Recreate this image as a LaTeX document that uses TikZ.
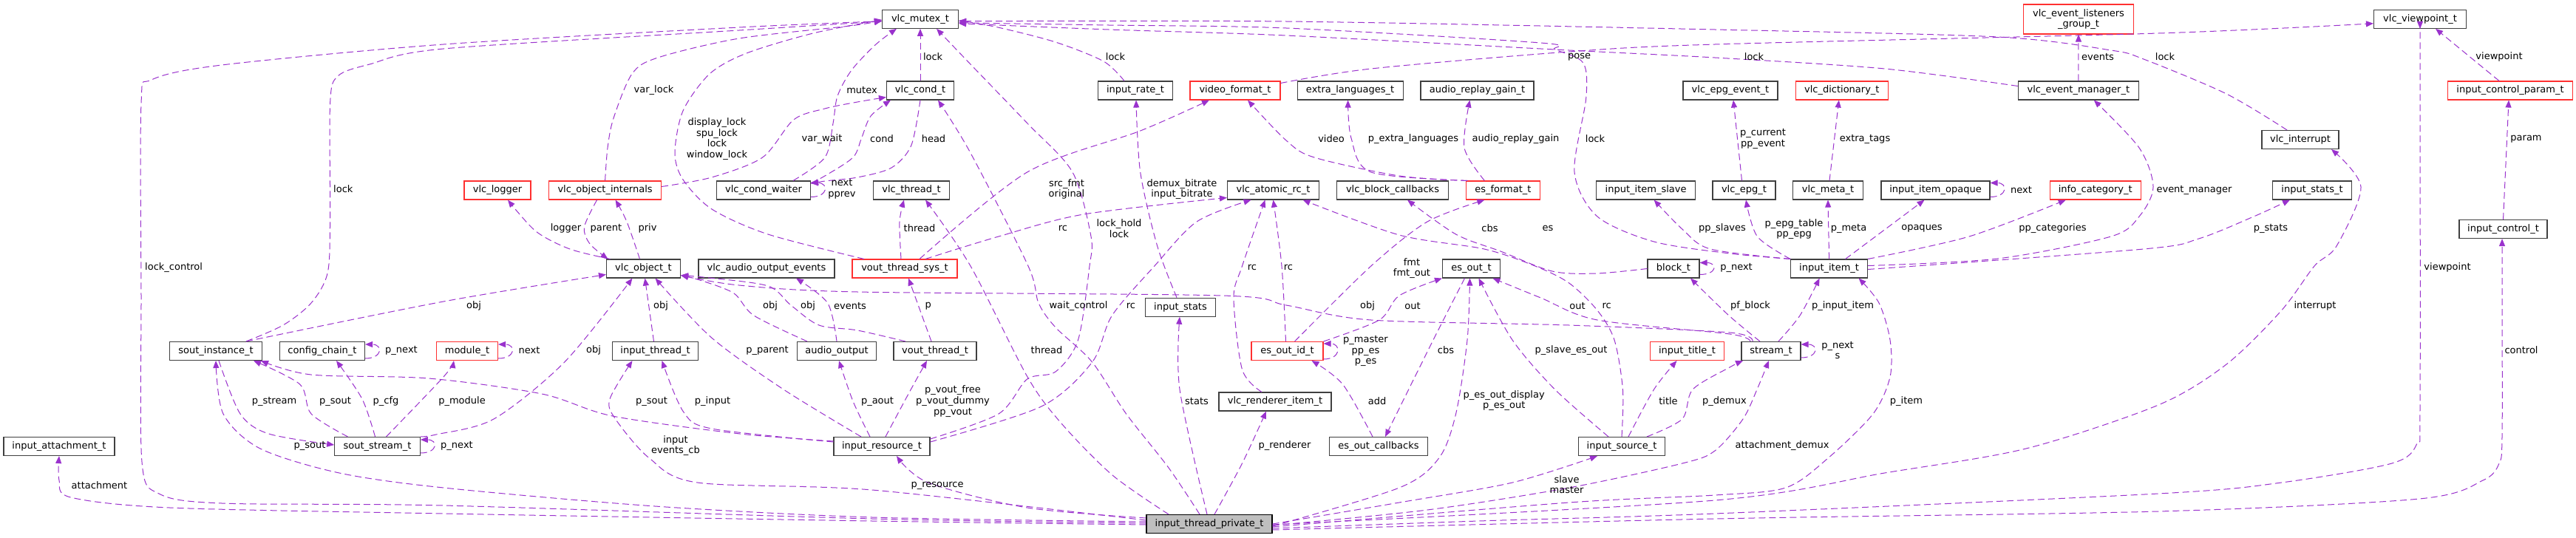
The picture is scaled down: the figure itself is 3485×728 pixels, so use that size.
\documentclass[tikz,border=0pt]{standalone}
\usepackage{fontspec}
\setmainfont{DejaVu Sans}
\usetikzlibrary{arrows.meta}
\definecolor{edgepurple}{HTML}{9A32CD}
\definecolor{truncred}{HTML}{FF3030}
\definecolor{boxgray}{HTML}{404040}
\definecolor{mainfill}{HTML}{BFBFBF}
\newcommand{\gsize}{\fontsize{13}{14.7}\selectfont}

\begin{document}
\begin{tikzpicture}[x=1pt,y=-1pt,
  cls/.style={draw=boxgray, line width=1.1pt, fill=white, minimum height=25pt, inner sep=0pt, font=\gsize},
  clsred/.style={cls, draw=truncred},
  memb/.style={draw=edgepurple, line width=1pt, dash pattern=on 9pt off 5pt, -{Triangle[length=10pt,width=8pt]}},
  lbl/.style={inner sep=0pt, align=center, font=\gsize, text=black}]
\fill[white, use as bounding box] (0,0) rectangle (3485,728);

\node[cls, minimum width=103pt] (mutex) at (1245,25.8) {vlc\_mutex\_t};
\node[clsred, minimum width=148.5pt, minimum height=40pt, align=center] (listeners) at (2812,26) {vlc\_event\_listeners\\\_group\_t};
\node[cls, minimum width=125pt] (viewpoint) at (3274,25.8) {vlc\_viewpoint\_t};
\node[cls, minimum width=91pt] (cond) at (1245,122.5) {vlc\_cond\_t};
\node[cls, minimum width=101pt] (rate) at (1536,122.5) {input\_rate\_t};
\node[clsred, minimum width=122pt] (vfmt) at (1671,122.5) {video\_format\_t};
\node[cls, minimum width=143pt] (xlang) at (1826.6,122.5) {extra\_languages\_t};
\node[cls, minimum width=153pt] (arg) at (1998.5,122.5) {audio\_replay\_gain\_t};
\node[cls, minimum width=128pt] (epgev) at (2341,122.5) {vlc\_epg\_event\_t};
\node[clsred, minimum width=125.5pt] (dict) at (2491.8,122.5) {vlc\_dictionary\_t};
\node[cls, minimum width=163pt] (evmgr) at (2811.8,122.5) {vlc\_event\_manager\_t};
\node[clsred, minimum width=169pt] (ctlparam) at (3396,122.5) {input\_control\_param\_t};
\node[cls, minimum width=104pt] (interrupt) at (3112,189) {vlc\_interrupt};
\node[clsred, minimum width=90pt] (logger) at (673,257.5) {vlc\_logger};
\node[clsred, minimum width=152pt] (internals) at (818.6,257.5) {vlc\_object\_internals};
\node[cls, minimum width=127pt] (waiter) at (1033,257.5) {vlc\_cond\_waiter};
\node[cls, minimum width=103pt] (thread) at (1233,257.5) {vlc\_thread\_t};
\node[cls, minimum width=124pt] (atomic) at (1722.5,257.5) {vlc\_atomic\_rc\_t};
\node[cls, minimum width=151pt] (blockcb) at (1884,257.5) {vlc\_block\_callbacks};
\node[clsred, minimum width=100pt] (esfmt) at (2033.4,257.5) {es\_format\_t};
\node[cls, minimum width=134pt] (slave) at (2226.6,257.5) {input\_item\_slave};
\node[cls, minimum width=85pt] (epg) at (2359.5,257.5) {vlc\_epg\_t};
\node[cls, minimum width=95pt] (meta) at (2473,257.5) {vlc\_meta\_t};
\node[cls, minimum width=147pt] (opaque) at (2618.5,257.5) {input\_item\_opaque};
\node[clsred, minimum width=123pt] (infocat) at (2834.7,257.5) {info\_category\_t};
\node[cls, minimum width=107pt] (istatst) at (3128,257.5) {input\_stats\_t};
\node[cls, minimum width=119pt] (ctl) at (3386.5,310) {input\_control\_t};
\node[cls, minimum width=100pt] (obj) at (870.5,363.5) {vlc\_object\_t};
\node[cls, minimum width=184pt] (aoevents) at (1037,363.5) {vlc\_audio\_output\_events};
\node[clsred, minimum width=142pt] (voutsys) at (1224,363.5) {vout\_thread\_sys\_t};
\node[cls, minimum width=78pt] (esout) at (1990.5,363.5) {es\_out\_t};
\node[cls, minimum width=70pt] (block) at (2264,363.5) {block\_t};
\node[cls, minimum width=104pt] (item) at (2474.6,363.5) {input\_item\_t};
\node[cls, minimum width=95pt] (istats) at (1597,415.7) {input\_stats};
\node[cls, minimum width=125pt] (sout) at (292,475) {sout\_instance\_t};
\node[cls, minimum width=115pt] (chain) at (436,475) {config\_chain\_t};
\node[clsred, minimum width=83pt] (module) at (632,475) {module\_t};
\node[cls, minimum width=115.5pt] (ithread) at (886.5,475) {input\_thread\_t};
\node[cls, minimum width=106.6pt] (aout) at (1132,475) {audio\_output};
\node[cls, minimum width=112pt] (vout) at (1265,475) {vout\_thread\_t};
\node[clsred, minimum width=97pt] (esid) at (1741.5,475) {es\_out\_id\_t};
\node[clsred, minimum width=100pt] (title) at (2282.5,475) {input\_title\_t};
\node[cls, minimum width=80pt] (stream) at (2396,475) {stream\_t};
\node[cls, minimum width=152pt] (renderer) at (1725,543.5) {vlc\_renderer\_item\_t};
\node[cls, minimum width=150pt] (attach) at (80,604) {input\_attachment\_t};
\node[cls, minimum width=115.6pt] (soutstream) at (510.5,604) {sout\_stream\_t};
\node[cls, minimum width=130pt] (resource) at (1193,604) {input\_resource\_t};
\node[cls, minimum width=133pt] (escb) at (1865,604) {es\_out\_callbacks};
\node[cls, minimum width=117.5pt] (source) at (2194,604) {input\_source\_t};
\node[cls, draw=black, fill=mainfill, minimum width=170pt] (itp) at (1636,709) {input\_thread\_private\_t};

\draw[memb] plot[smooth] coordinates {([yshift=1pt]itp.west) (1180,702) (600,684) (300,681) (215,668) (192,625) (191,400) (191,140) (205,108) (300,88) (600,60) (1000,37) ([yshift=-3pt]mutex.west)};
\draw[memb] plot[smooth] coordinates {([xshift=41pt]sout.north) (383,440) (421,410) (443,370) (446.6,300) (446.6,140) (457,103) (500,87) (600,66) (1000,41) ([yshift=-3pt]mutex.west)};
\draw[memb] plot[smooth] coordinates {(internals.north) (822,200) (830,160) (855,100) (890,78) (1000,52) (1150,35) ([yshift=-2pt]mutex.west)};
\draw[memb] plot[smooth] coordinates {([xshift=-55pt]voutsys.north) (1039,317) (963,283) (924,243) (913,207) (924,150) (960,100) (1010,72) (1100,45) ([yshift=-1pt]mutex.west)};
\draw[memb] plot[smooth] coordinates {([xshift=40pt]waiter.north) (1116,213) (1127,167) (1133,130) (1152,95) (1185,60) ([xshift=-32pt]mutex.south)};
\draw[memb] (cond) -- (mutex);
\draw[memb] plot[smooth] coordinates {([yshift=10pt]resource.east) (1351,560) (1389.6,513) (1428,503) (1458.5,460) (1474,360) (1476,320) (1451,233) (1390,167) (1313,87) ([xshift=22pt]mutex.south)};
\draw[memb] plot[smooth] coordinates {([xshift=-15pt]rate.north) (1493,83) (1428,57) (1350,37) ([yshift=-2pt]mutex.east)};
\draw[memb] plot[smooth] coordinates {([yshift=6pt]evmgr.west) (2549.6,93) (2320,78) (2122.7,68) (1740,48) (1500,40) ([yshift=-6pt]mutex.east)};
\draw[memb] plot[smooth] coordinates {([xshift=-18pt]interrupt.north) (3012,127) (2900,80) (2855.8,68) (2702.7,50) (2320,40) (1740,29) ([yshift=-3pt]mutex.east)};
\draw[memb] plot[smooth] coordinates {(item.north west) (2340,343) (2237.5,327) (2161,293) (2130,233) (2145.7,133) (2141.8,85) (2103.6,67) (2084.4,58) (1740,38) (1500,34) ([yshift=-5pt]mutex.east)};
\draw[memb] plot[smooth] coordinates {(cond.south) (1232.7,197) (1206,227) (1160,240) (1116,245) ([yshift=9pt]waiter.east)};
\draw[memb] plot[smooth] coordinates {([yshift=10pt]waiter.east) (1116,238) (1154,213) (1165.5,187) (1178,157) ([xshift=-40pt]cond.south)};
\draw[memb] plot[smooth] coordinates {([yshift=5pt]internals.east) (962.7,240) (1031.6,213) (1073.7,162) (1115.8,147) (1160,138) ([yshift=-9pt]cond.west)};
\draw[memb] ([yshift=-9pt]waiter.east) .. controls +(24pt,0pt) and +(24pt,0pt) .. ([yshift=10pt]waiter.east);
\draw[memb] plot[smooth] coordinates {([xshift=-45pt]obj.north) (771,337) (725,313) ([xshift=14pt]logger.south)};
\draw[memb] plot[smooth] coordinates {([xshift=-11pt]internals.south) (790.5,307) (798,330) ([xshift=-48pt]obj.north)};
\draw[memb] plot[smooth] coordinates {([xshift=-5pt]obj.north) (848,300) ([xshift=14pt]internals.south)};
\draw[memb] plot[smooth] coordinates {([xshift=41pt]sout.north) (600,408) ([yshift=-8pt]obj.west)};
\draw[memb] plot[smooth] coordinates {(soutstream.north east) (590,588) (668,567) (763.7,490) ([xshift=-15pt]obj.south)};
\draw[memb] ([xshift=-2pt]ithread.north) -- ([xshift=2pt]obj.south);
\draw[memb] plot[smooth] coordinates {([xshift=-28pt]resource.north) (1060,527) (962.7,457) ([xshift=16pt]obj.south)};
\draw[memb] plot[smooth] coordinates {([xshift=-40pt]aout.north) (1020,427) (993,397) (950,380) ([yshift=4pt]obj.south east)};
\draw[memb] plot[smooth] coordinates {([xshift=-40pt]vout.north) (1160,447) (1108,440) (1070,413) (1039,387) (960,376) ([yshift=4pt]obj.south east)};
\draw[memb] plot[smooth] coordinates {(aout.north) (1119.6,410) ([xshift=40pt]aoevents.south)};
\draw[memb] plot[smooth] coordinates {([xshift=-25pt]stream.north) (2340,450) (2122.7,440) (1854.8,433) (1740,413) (1653.7,400) (1160,395) (1000,386) ([yshift=4pt]obj.south east)};
\draw[memb] plot[smooth] coordinates {([xshift=4pt]sout.south) (325,560) (363.6,587) ([yshift=2pt]soutstream.west)};
\draw[memb] plot[smooth] coordinates {([xshift=-40pt]soutstream.north) (421,560) (405.7,520) ([xshift=-12pt]sout.south east)};
\draw[memb] plot[smooth] coordinates {([xshift=-3pt]soutstream.north) (490,540) ([xshift=19pt]chain.south)};
\draw[memb] plot[smooth] coordinates {([xshift=12pt]soutstream.north) (600,510) ([xshift=-18pt]module.south)};
\draw[memb] ([yshift=-9pt]soutstream.east) .. controls +(24pt,0pt) and +(24pt,0pt) .. ([yshift=9pt]soutstream.east);
\draw[memb] ([yshift=-10pt]chain.east) .. controls +(24pt,0pt) and +(24pt,0pt) .. ([yshift=9pt]chain.east);
\draw[memb] ([yshift=-10pt]module.east) .. controls +(24pt,0pt) and +(24pt,0pt) .. ([yshift=9pt]module.east);
\draw[memb] plot[smooth] coordinates {([yshift=3pt]itp.west) (1180,700) (886,685) (600,660) (459,640) (352,607) (302,560) (sout.south)};
\draw[memb] plot[smooth] coordinates {([yshift=-1pt]itp.west) (1180,705) (600,695) (229.6,687) (95.7,673) (80,650) (attach.south)};
\draw[memb] plot[smooth] coordinates {([yshift=7pt]resource.west) (1001,587) (828.8,563) (733,533) (580,512) (421,507) ([xshift=-2pt]sout.south east)};
\draw[memb] plot[smooth] coordinates {([yshift=6pt]resource.west) (962.7,580) (924.4,557) ([xshift=9pt]ithread.south)};
\draw[memb] plot[smooth] coordinates {([yshift=5pt]itp.west) (1180,663) (943.6,653) (878.5,620) (832.6,567) (825,540) ([xshift=-31pt]ithread.south)};
\draw[memb] plot[smooth] coordinates {([xshift=-16pt]resource.north) (1154,543) ([xshift=3pt]aout.south)};
\draw[memb] plot[smooth] coordinates {([xshift=5pt]resource.north) (1229,533) ([xshift=-11pt]vout.south)};
\draw[memb] ([xshift=-5pt]vout.north) -- ([xshift=5pt]voutsys.south);
\draw[memb] plot[smooth] coordinates {([yshift=6pt]resource.east) (1408.8,550) (1477.6,490) (1504.4,427) (1561.8,360) (1619,300) ([xshift=-30pt]atomic.south)};
\draw[memb] plot[smooth] coordinates {([xshift=28pt]voutsys.north) (1351,320) (1466,290) ([yshift=-10pt]atomic.west)};
\draw[memb] plot[smooth] coordinates {([xshift=20pt]voutsys.north) (1389.6,233) (1542.7,177) ([xshift=-35pt]vfmt.south)};
\draw[memb] plot[smooth] coordinates {([xshift=-5pt]voutsys.north) (1217,300) ([xshift=-10pt]thread.south)};
\draw[memb] plot[smooth] coordinates {([xshift=-55pt]itp.north) (1505,643) (1436,573) (1390,510) (1313,360) ([xshift=19pt]thread.south)};
\draw[memb] plot[smooth] coordinates {([xshift=-13pt]itp.north) (1581,633) (1523.6,560) (1477.6,490) (1428,443) (1405,410) (1391,360) (1313,207) ([xshift=24pt]cond.south)};
\draw[memb] plot[smooth] coordinates {([xshift=-5pt]istats.north) (1565.7,333) (1542.7,233) ([xshift=1pt]rate.south)};
\draw[memb] plot[smooth] coordinates {([xshift=-3pt]itp.north) (1596,527) ([xshift=-1pt]istats.south)};
\draw[memb] plot[smooth] coordinates {([xshift=7pt]itp.north) (1680.5,627) ([xshift=-12pt]renderer.south)};
\draw[memb] plot[smooth] coordinates {([xshift=-18pt]renderer.north) (1680.5,500) (1669,403) (1680.5,360) ([xshift=-11pt]atomic.south)};
\draw[memb] plot[smooth] coordinates {([xshift=-2pt]esid.north) (1734,360) (atomic.south)};
\draw[memb] plot[smooth] coordinates {(source.north) (2195.4,527) (2184,460) (2161,420) (2122.7,383) (2076.8,360) (2008,337) (1893,318) ([xshift=40pt]atomic.south)};
\draw[memb] plot[smooth] coordinates {([xshift=-28pt]stream.north) (2340,452) (2161,433) (2084.4,403) ([xshift=29pt]esout.south)};
\draw[memb] plot[smooth] coordinates {([xshift=-15pt]stream.north) (2339,427) ([xshift=23pt]block.south)};
\draw[memb] plot[smooth] coordinates {([xshift=10pt]stream.north) (2435,427) ([xshift=-13pt]item.south)};
\draw[memb] ([yshift=-9pt]stream.east) .. controls +(24pt,0pt) and +(24pt,0pt) .. ([yshift=9pt]stream.east);
\draw[memb] plot[smooth] coordinates {([yshift=-2pt]itp.east) (1931,690) (2122.7,660) (2276,627) (2320,610) (2358,567) (2377,527) ([xshift=-3pt]stream.south)};
\draw[memb] plot[smooth] coordinates {([yshift=-4pt]itp.east) (2122.7,680) (2320,670) (2415.7,660) (2473,620) (2534,560) (2557,510) (2557,460) (2542,410) ([xshift=40pt]item.south)};
\draw[memb] plot[smooth] coordinates {(itp.east) (1893,680) (2046,653) ([xshift=-33pt]source.south)};
\draw[memb] plot[smooth] coordinates {([xshift=9pt]source.north) (2237.5,527) ([xshift=-14pt]title.south)};
\draw[memb] plot[smooth] coordinates {([xshift=34pt]source.north) (2275.8,567) (2290,527) (2340,497) ([xshift=-38pt]stream.south)};
\draw[memb] plot[smooth] coordinates {([xshift=-18pt]source.north) (2103.6,527) (2046,460) ([xshift=10pt]esout.south)};
\draw[memb] plot[smooth] coordinates {([yshift=-3pt]itp.east) (1893,660) (1946.6,620) (1969.6,560) (1985,460) ([xshift=-2pt]esout.south)};
\draw[memb] plot[smooth] coordinates {([xshift=-9pt]esout.south) (1939,460) ([xshift=9pt]escb.north)};
\draw[memb] plot[smooth] coordinates {([xshift=-8pt]escb.north) (1816.5,520) ([xshift=33pt]esid.south)};
\draw[memb] plot[smooth] coordinates {(esid.north east) (1866,433) (1893,400) (esout.south west)};
\draw[memb] plot[smooth] coordinates {([xshift=10pt]esid.north) (1854.8,360) (1931,300) ([xshift=-25pt]esfmt.south)};
\draw[memb] ([yshift=-11pt]esid.east) .. controls +(24pt,0pt) and +(24pt,0pt) .. ([yshift=10pt]esid.east);
\draw[memb] plot[smooth] coordinates {([xshift=-48pt]esfmt.north) (1893,238) (1778,213) (1740,190) ([xshift=17pt]vfmt.south)};
\draw[memb] plot[smooth] coordinates {([xshift=-48pt]esfmt.north) (1855,233) (1828,187) ([xshift=-3pt]xlang.south)};
\draw[memb] plot[smooth] coordinates {([xshift=-25pt]esfmt.north) (1981,200) ([xshift=-10pt]arg.south)};
\draw[memb] plot[smooth] coordinates {([yshift=10pt]vfmt.east) (1855,93) (2122.7,70) (2320,60) (2920,45) ([yshift=-6pt]viewpoint.west)};
\draw[memb] plot[smooth] coordinates {(item.north west) (2314,337) (2275.8,310) ([xshift=11pt]slave.south)};
\draw[memb] plot[smooth] coordinates {(item.north west) (2377.4,320) ([xshift=2.5pt]epg.south)};
\draw[memb] (item.north) -- (meta.south);
\draw[memb] ([xshift=22pt]item.north) -- ([xshift=-15pt]opaque.south);
\draw[memb] ([yshift=-9pt]opaque.east) .. controls +(24pt,0pt) and +(24pt,0pt) .. ([yshift=10pt]opaque.east);
\draw[memb] plot[smooth] coordinates {(item.north east) (2664,320) ([xshift=-40pt]infocat.south)};
\draw[memb] plot[smooth] coordinates {([yshift=4pt]item.east) (2702.7,350) (2855.8,320) (2894,293) (2913,253) (2894,200) ([xshift=21pt]evmgr.south)};
\draw[memb] plot[smooth] coordinates {([yshift=-1pt]item.east) (2900,337) (2974.6,323) (3049,293) ([xshift=-30pt]istatst.south)};
\draw[memb] ([xshift=-3pt]epg.north) -- ([xshift=4pt]epgev.south);
\draw[memb] ([xshift=2pt]meta.north) -- ([xshift=-4pt]dict.south);
\draw[memb] (evmgr) -- (listeners);
\draw[memb] ([xshift=-15pt]ctlparam.north) -- ([xshift=21pt]viewpoint.south);
\draw[memb] (ctl.north) -- ([xshift=-2pt]ctlparam.south);
\draw[memb] plot[smooth] coordinates {([yshift=-6pt]itp.east) (2000,705) (2320,695) (2920,668) (3086.6,653) (3235.8,627) (3270,600) (3274,550) (3274,100) (viewpoint.south)};
\draw[memb] plot[smooth] coordinates {([yshift=-8pt]itp.east) (2320,702) (2920,692) (3273,675) (3359,650) (3381,627) (3385,590) (3385,400) ([xshift=-1.5pt]ctl.south)};
\draw[memb] plot[smooth] coordinates {([yshift=-1pt]itp.east) (2320,677) (2549.6,640) (2741,607) (2920,548) (3012,493) (3086.6,420) (3131,360) (3161,333) (3194,253) ([xshift=42pt]interrupt.south)};
\draw[memb] plot[smooth] coordinates {([yshift=8pt]itp.west) (1389.6,687) (1255.7,653) ([xshift=20pt]resource.south)};
\draw[memb] ([yshift=-8pt]block.east) .. controls +(24pt,0pt) and +(24pt,0pt) .. ([yshift=8pt]block.east);
\draw[memb] plot[smooth] coordinates {(block.west) (2160,370) (2100,367) (2030,340) (1969.6,317) ([xshift=20pt]blockcb.south)};

\node[lbl, anchor=west] (t-lockctl) at (196,362) {lock\_control};
\node[lbl, anchor=west] (t-soutlock) at (451,256) {lock};
\node[lbl, anchor=west] (t-varlock) at (857.5,122) {var\_lock};
\node[lbl] (t-display) at (970,188) {display\_lock\\spu\_lock\\lock\\window\_lock};
\node[lbl] (t-mutex) at (1166,122) {mutex};
\node[lbl, anchor=west] (t-condlock) at (1248.8,77) {lock};
\node[lbl] (t-lockhold) at (1514,309) {lock\_hold\\lock};
\node[lbl] (t-ratelock) at (1509,77) {lock};
\node[lbl] (t-mgrlock) at (2373,77) {lock};
\node[lbl] (t-irqlock) at (2929,77) {lock};
\node[lbl] (t-itemlock) at (2158,188) {lock};
\node[lbl] (t-head) at (1263,188) {head};
\node[lbl] (t-cond) at (1193,188) {cond};
\node[lbl] (t-varwait) at (1112,188) {var\_wait};
\node[lbl] (t-waitnext) at (1139,255.7) {next\\pprev};
\node[lbl] (t-logger) at (765.5,309) {logger};
\node[lbl] (t-parent) at (820,309) {parent};
\node[lbl] (t-priv) at (876,309) {priv};
\node[lbl] (t-soutobj) at (641,414) {obj};
\node[lbl] (t-streamobj) at (803,474) {obj};
\node[lbl] (t-ithreadobj) at (894,414) {obj};
\node[lbl] (t-pparent) at (1038,474) {p\_parent};
\node[lbl] (t-aoutobj) at (1042,414) {obj};
\node[lbl] (t-voutobj) at (1093,414) {obj};
\node[lbl] (t-aoevents) at (1150,414) {events};
\node[lbl] (t-sobj) at (1850,414) {obj};
\node[lbl] (t-pstream) at (371,543) {p\_stream};
\node[lbl] (t-psout1) at (453.5,543) {p\_sout};
\node[lbl] (t-pcfg) at (522,543) {p\_cfg};
\node[lbl] (t-pmodule) at (625,543) {p\_module};
\node[lbl] (t-ssnext) at (618,603) {p\_next};
\node[lbl] (t-chainnext) at (543,474) {p\_next};
\node[lbl] (t-modnext) at (716,474) {next};
\node[lbl] (t-psout2) at (419,603) {p\_sout};
\node[lbl] (t-attach) at (134.5,657) {attachment};
\node[lbl] (t-psout3) at (881.6,543) {p\_sout};
\node[lbl] (t-pinput) at (964,543) {p\_input};
\node[lbl] (t-input) at (914,603) {input\\events\_cb};
\node[lbl] (t-paout) at (1187,543) {p\_aout};
\node[lbl] (t-pvout) at (1289,543) {p\_vout\_free\\p\_vout\_dummy\\pp\_vout};
\node[lbl] (t-p) at (1255.7,414) {p};
\node[lbl] (t-resrc) at (1530,414) {rc};
\node[lbl] (t-vsrc) at (1438,309) {rc};
\node[lbl] (t-srcfmt) at (1443,256) {src\_fmt\\original};
\node[lbl] (t-vsthread) at (1244,309) {thread};
\node[lbl] (t-thread) at (1416,474) {thread};
\node[lbl] (t-waitctl) at (1459,414) {wait\_control};
\node[lbl] (t-bitrate) at (1599,256) {demux\_bitrate\\input\_bitrate};
\node[lbl] (t-stats) at (1619,543) {stats};
\node[lbl] (t-prenderer) at (1738,603) {p\_renderer};
\node[lbl] (t-rendrc) at (1694,362) {rc};
\node[lbl] (t-esidrc) at (1743,362) {rc};
\node[lbl] (t-srcrc) at (2173.6,414) {rc};
\node[lbl] (t-sout) at (2134,414) {out};
\node[lbl] (t-pfblock) at (2368,414) {pf\_block};
\node[lbl] (t-pinitem) at (2493,414) {p\_input\_item};
\node[lbl] (t-snext) at (2486,474) {p\_next\\s};
\node[lbl] (t-attdemux) at (2411,603) {attachment\_demux};
\node[lbl] (t-pitem) at (2579,543) {p\_item};
\node[lbl] (t-slave) at (2119.6,655.7) {slave\\master};
\node[lbl] (t-title) at (2257,543) {title};
\node[lbl] (t-pdemux) at (2333,543) {p\_demux};
\node[lbl] (t-pslave) at (2125.6,474) {p\_slave\_es\_out};
\node[lbl] (t-pesout) at (2034.7,542) {p\_es\_out\_display\\p\_es\_out};
\node[lbl] (t-cbs) at (1956,474) {cbs};
\node[lbl] (t-add) at (1863,543) {add};
\node[lbl] (t-idout) at (1911,414) {out};
\node[lbl] (t-fmt) at (1910,363) {fmt\\fmt\_out};
\node[lbl] (t-pmaster) at (1847.5,475) {p\_master\\pp\_es\\p\_es};
\node[lbl] (t-video) at (1801,188) {video};
\node[lbl] (t-xlang) at (1912,188) {p\_extra\_languages};
\node[lbl] (t-arg) at (2050.5,188) {audio\_replay\_gain};
\node[lbl] (t-pose) at (2136.5,77) {pose};
\node[lbl] (t-ppslaves) at (2330,309) {pp\_slaves};
\node[lbl] (t-pepg) at (2427,310) {p\_epg\_table\\pp\_epg};
\node[lbl] (t-pmeta) at (2501,309) {p\_meta};
\node[lbl] (t-opaques) at (2600,309) {opaques};
\node[lbl] (t-opnext) at (2734.5,257) {next};
\node[lbl] (t-ppcat) at (2777,309) {pp\_categories};
\node[lbl] (t-evmgr) at (2968.5,257) {event\_manager};
\node[lbl] (t-pstats) at (3072,309) {p\_stats};
\node[lbl] (t-pcurrent) at (2385,188) {p\_current\\pp\_event};
\node[lbl] (t-extratags) at (2523,188) {extra\_tags};
\node[lbl] (t-events) at (2838,77) {events};
\node[lbl] (t-vp1) at (3381,77) {viewpoint};
\node[lbl] (t-param) at (3417.5,188) {param};
\node[lbl] (t-vp2) at (3311,362) {viewpoint};
\node[lbl] (t-control) at (3411,474) {control};
\node[lbl] (t-interrupt) at (3132,414) {interrupt};
\node[lbl] (t-presource) at (1268,657) {p\_resource};
\node[lbl] (t-blocknext) at (2349,362) {p\_next};
\node[lbl] (t-blockcbs) at (2015.5,309) {cbs};
\node[lbl] (t-es) at (2094,309) {es};
\end{tikzpicture}
\end{document}
